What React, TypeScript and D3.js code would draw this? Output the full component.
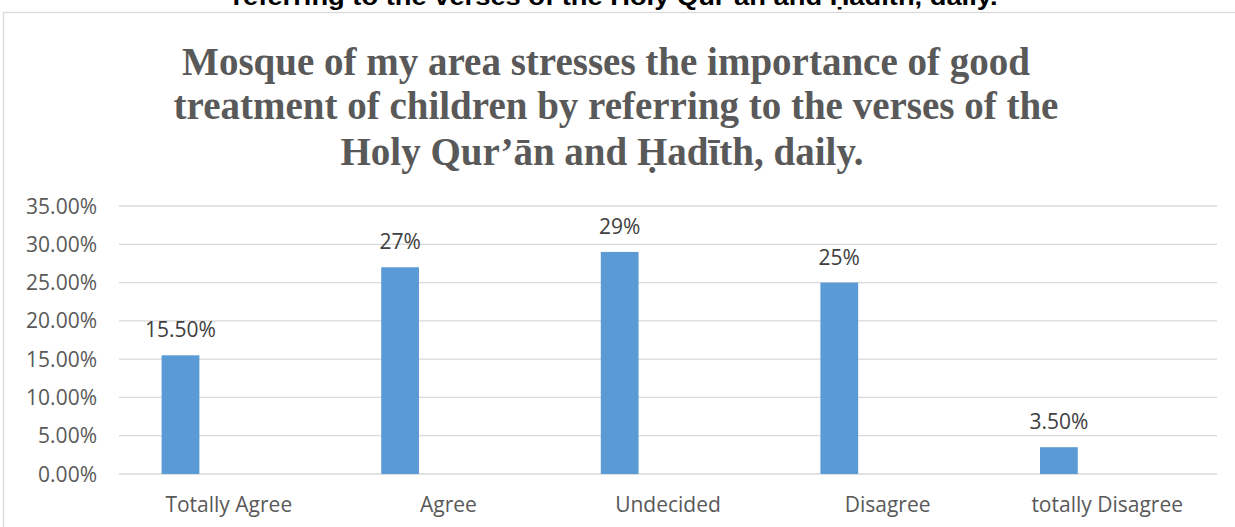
import React from 'react';
import * as d3 from 'd3';

const categories = ["Totally Agree", "Agree", "Undecided", "Disagree", "totally Disagree"];
const values = [15.5, 27, 29, 25, 3.5];
const valueLabels = ["15.50%", "27%", "29%", "25%", "3.50%"];
const yTicks = [0, 5, 10, 15, 20, 25, 30, 35];
const titleLines = [
  "Mosque of my area stresses the importance of good",
  "treatment of children by referring to the verses of the",
  "Holy Qur\u2019\u0101n and \u1E24ad\u012Bth, daily.",
];
const clippedCaption = "referring to the verses of the Holy Qur\u2019\u0101n and \u1E24ad\u012Bth, daily.";

const W = 1235;
const H = 527;
const plot = { left: 119, right: 1217, top: 206, bottom: 474 };

export default function App() {
  const x = d3.scaleBand().domain(categories).range([plot.left, plot.right]).padding(0);
  const y = d3.scaleLinear().domain([0, 35]).range([plot.bottom, plot.top]);
  const bw = x.bandwidth();
  const barOff = bw * 0.194; // bar sits left in its slot
  const barW = bw * 0.172;
  const gray = "#595959";
  const sans = "'Open Sans', sans-serif";

  return (
    <svg width={W} height={H} style={{ position: 'absolute', left: 0, top: 0, background: '#fff' }}>
      {/* caption cut off by the crop, as in the source image */}
      <text x={615} y={5} textAnchor="middle" fontFamily="'Liberation Sans', Arial, sans-serif"
        fontWeight="bold" fontSize={24} textLength={765} lengthAdjust="spacingAndGlyphs" fill="#000">{clippedCaption}</text>

      {/* chart frame */}
      <rect x={3.5} y={12.5} width={W + 10} height={H + 10} fill="#fff" stroke="#d9d9d9" strokeWidth={1.3} />

      {/* title */}
      {titleLines.map((t, i) => (
        <text key={i} x={[606, 616, 602][i]} y={[75, 119, 165][i]} textAnchor="middle"
          fontFamily="'Liberation Serif', 'Times New Roman', serif" fontWeight="bold" fontSize={39} fill={gray}>{t}</text>
      ))}

      {/* gridlines + y labels */}
      {yTicks.map(t => (
        <g key={t}>
          <line x1={plot.left} x2={plot.right} y1={y(t)} y2={y(t)} stroke="#d9d9d9" strokeWidth={1.3} />
          <text x={97} y={y(t) + 7.5} textAnchor="end" fontFamily={sans} fontSize={21} fill={gray}>
            {t.toFixed(2) + "%"}
          </text>
        </g>
      ))}

      {/* bars */}
      {categories.map((c, i) => (
        <g key={c}>
          <rect x={x(c)! + barOff} y={y(values[i])} width={barW} height={y(0) - y(values[i])} fill="#5b9bd5" />
          <text x={x(c)! + barOff + barW / 2} y={y(values[i]) - 18} textAnchor="middle"
            fontFamily={sans} fontSize={21} fill="#404040">{valueLabels[i]}</text>
          <text x={x(c)! + bw / 2} y={512} textAnchor="middle" fontFamily={sans} fontSize={21} fill={gray}>{c}</text>
        </g>
      ))}
    </svg>
  );
}
